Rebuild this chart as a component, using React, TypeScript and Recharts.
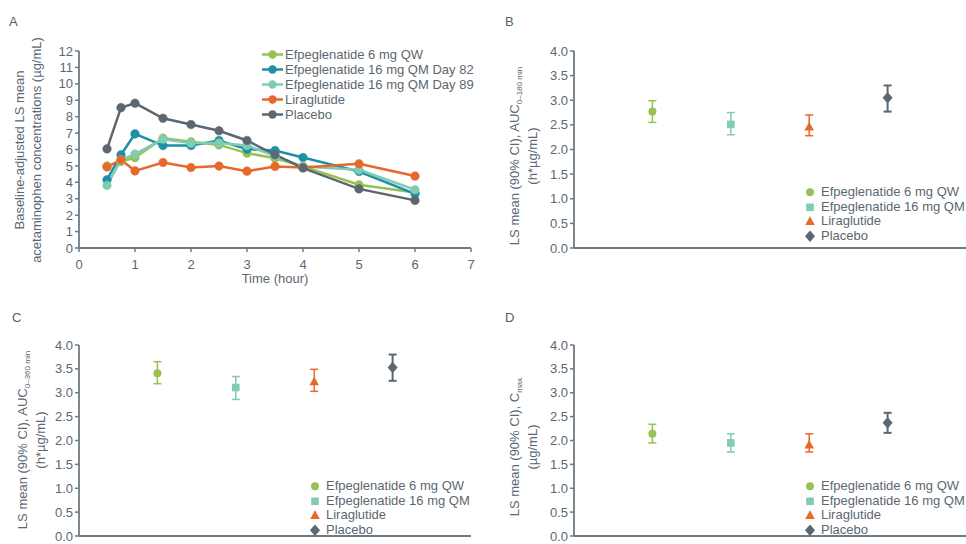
import React from "react";
import {
  LineChart, Line, ScatterChart, Scatter, ErrorBar,
  XAxis, YAxis, Legend,
} from "recharts";

const FONT = "'Liberation Sans', Arial, Helvetica, sans-serif";
const TEXT = "#5b6771";
const AXIS = "#6e7a84";

const GREEN = "#97c153";
const TEAL = "#1f8fa6";
const MINT = "#80ccb2";
const ORANGE = "#e8682b";
const GREY = "#5c6770";

/* ─── Panel A data ─────────────────────────────── */
const times = [0.5, 0.75, 1, 1.5, 2, 2.5, 3, 3.5, 4, 5, 6];
const efpeg6 = [5.0, 5.27, 5.5, 6.69, 6.47, 6.28, 5.78, 5.47, 4.97, 3.85, 3.38];
const efpeg16d82 = [4.16, 5.68, 6.95, 6.24, 6.24, 6.55, 6.02, 5.94, 5.51, 4.66, 3.3];
const efpeg16d89 = [3.81, 5.37, 5.72, 6.63, 6.39, 6.39, 6.24, 5.6, 4.97, 4.76, 3.55];
const liraglutide = [4.93, 5.38, 4.7, 5.21, 4.9, 4.99, 4.68, 4.97, 4.9, 5.13, 4.38];
const placebo = [6.04, 8.55, 8.82, 7.9, 7.52, 7.14, 6.55, 5.68, 4.87, 3.6, 2.9];

const lineSeries = [
  { key: "e6", name: "Efpeglenatide 6 mg QW", color: GREEN, values: efpeg6 },
  { key: "e82", name: "Efpeglenatide 16 mg QM Day 82", color: TEAL, values: efpeg16d82 },
  { key: "e89", name: "Efpeglenatide 16 mg QM Day 89", color: MINT, values: efpeg16d89 },
  { key: "lira", name: "Liraglutide", color: ORANGE, values: liraglutide },
  { key: "plac", name: "Placebo", color: GREY, values: placebo },
];
const xTicksA = [0, 1, 2, 3, 4, 5, 6, 7];
const yTicksA = [0, 1, 2, 3, 4, 5, 6, 7, 8, 9, 10, 11, 12];

/* ─── Panels B–D data (mean, lower, upper) ─────── */
const groups = ["Efpeglenatide 6 mg QW", "Efpeglenatide 16 mg QM", "Liraglutide", "Placebo"];
const groupColors = [GREEN, MINT, ORANGE, GREY];
const groupShapes = ["circle", "square", "triangle", "diamond"];

const aucShortMean = [2.77, 2.51, 2.46, 3.05];
const aucShortLow = [2.55, 2.3, 2.28, 2.77];
const aucShortHigh = [2.99, 2.75, 2.7, 3.3];

const aucLongMean = [3.41, 3.11, 3.23, 3.53];
const aucLongLow = [3.19, 2.86, 3.03, 3.25];
const aucLongHigh = [3.65, 3.34, 3.49, 3.8];

const cmaxMean = [2.14, 1.95, 1.91, 2.37];
const cmaxLow = [1.95, 1.76, 1.76, 2.16];
const cmaxHigh = [2.34, 2.14, 2.14, 2.58];

const yTicksCI = [0, 0.5, 1, 1.5, 2, 2.5, 3, 3.5, 4];

const lineData = times.map((t, i) => {
  const row: any = { t };
  lineSeries.forEach((s) => { row[s.key] = s.values[i]; });
  return row;
});

/* ─── Markers ──────────────────────────────────── */
function Marker({ kind, cx, cy, color }: any) {
  if (kind === "circle") return <circle cx={cx} cy={cy} r={4} fill={color} />;
  if (kind === "square") return <rect x={cx - 3.8} y={cy - 3.8} width={7.6} height={7.6} fill={color} />;
  if (kind === "triangle")
    return <path d={`M${cx},${cy - 5} L${cx + 4.8},${cy + 3.6} L${cx - 4.8},${cy + 3.6} Z`} fill={color} />;
  return <path d={`M${cx},${cy - 5.8} L${cx + 5},${cy} L${cx},${cy + 5.8} L${cx - 5},${cy} Z`} fill={color} />;
}

function LineLegend() {
  return (
    <div style={{ fontFamily: FONT, fontSize: 13, color: TEXT, lineHeight: "15px" }}>
      {lineSeries.map((s) => (
        <div key={s.key} style={{ display: "flex", alignItems: "center", whiteSpace: "nowrap" }}>
          <svg width={24} height={15}>
            <line x1={1} y1={7.5} x2={22} y2={7.5} stroke={s.color} strokeWidth={2.5} />
            <circle cx={11.5} cy={7.5} r={4.2} fill={s.color} />
          </svg>
          <span>{s.name}</span>
        </div>
      ))}
    </div>
  );
}

function SymbolLegend() {
  return (
    <div style={{ fontFamily: FONT, fontSize: 13, color: TEXT, lineHeight: "14.5px" }}>
      {groups.map((g, i) => (
        <div key={g} style={{ display: "flex", alignItems: "center", whiteSpace: "nowrap" }}>
          <svg width={16} height={14.5}>
            <Marker kind={groupShapes[i]} cx={5} cy={7.3} color={groupColors[i]} />
          </svg>
          <span>{g}</span>
        </div>
      ))}
    </div>
  );
}

const tickStyle = { fontSize: 13, fill: TEXT, fontFamily: FONT };

function PanelLetter({ text, left, top }: any) {
  return (
    <div style={{ position: "absolute", left, top, fontFamily: FONT, fontSize: 13, color: "#555f66" }}>{text}</div>
  );
}

function RotLabel({ cx, cy, children, lh }: any) {
  return (
    <div
      style={{
        position: "absolute", left: cx, top: cy,
        transform: "translate(-50%, -50%) rotate(-90deg)",
        fontFamily: FONT, fontSize: 13, color: TEXT, whiteSpace: "nowrap",
        textAlign: "center", lineHeight: `${lh}px`,
      }}
    >
      {children}
    </div>
  );
}

const subStyle = { fontSize: 8, lineHeight: 0, verticalAlign: "-3px" };

function CIChart({ mean, low, high, width, height, top, plotH, legendTop }: any) {
  const bottom = height - top - plotH - 1;
  return (
    <ScatterChart width={width} height={height} margin={{ top, right: 0, bottom, left: 0 }}>
      <XAxis type="number" dataKey="x" domain={[0, 5]} ticks={[]} tick={false} height={1}
        axisLine={{ stroke: AXIS, strokeWidth: 1.8 }} tickLine={false} />
      <YAxis type="number" dataKey="y" domain={[0, 4]} ticks={yTicksCI} width={91} interval={0}
        tick={tickStyle} tickFormatter={(v) => Number(v).toFixed(1)}
        axisLine={{ stroke: AXIS, strokeWidth: 1.8 }} tickLine={{ stroke: AXIS, strokeWidth: 1.5 }}
        tickSize={4} tickMargin={2} />
      {groups.map((g, i) => (
        <Scatter
          key={g}
          name={g}
          isAnimationActive={false}
          data={[{ x: i + 1, y: mean[i], err: [mean[i] - low[i], high[i] - mean[i]] }]}
          shape={(p: any) => <Marker kind={groupShapes[i]} cx={p.cx} cy={p.cy} color={groupColors[i]} />}
        >
          <ErrorBar dataKey="err" direction="y" width={4} stroke={groupColors[i]}
            strokeWidth={i === 3 ? 2 : 1.5} isAnimationActive={false} />
        </Scatter>
      ))}
      <Legend layout="vertical" align="center" verticalAlign="middle"
        wrapperStyle={{ left: 322, top: legendTop, width: "auto" }} content={() => <SymbolLegend />} />
    </ScatterChart>
  );
}

export default function App() {
  return (
    <div style={{ position: "absolute", left: 0, top: 0, width: 966, height: 544, overflow: "hidden", background: "#fff" }}>
      {/* Panel A */}
      <PanelLetter text="A" left={9} top={14} />
      <div style={{ position: "absolute", left: 0, top: 0 }}>
        <LineChart width={483} height={300} data={lineData} margin={{ top: 51, right: 12, bottom: 12, left: 0 }}>
          <XAxis type="number" dataKey="t" domain={[0, 7]} ticks={xTicksA} interval={0} tick={tickStyle}
            axisLine={{ stroke: AXIS, strokeWidth: 1.8 }} tickLine={{ stroke: AXIS, strokeWidth: 1.5 }}
            tickSize={4} tickMargin={8} height={40}
            label={{ value: "Time (hour)", position: "insideBottom", offset: 5, fill: TEXT, fontSize: 13, fontFamily: FONT }} />
          <YAxis type="number" domain={[0, 12]} ticks={yTicksA} interval={0} width={79} tick={tickStyle}
            axisLine={{ stroke: AXIS, strokeWidth: 1.8 }} tickLine={{ stroke: AXIS, strokeWidth: 1.5 }}
            tickSize={4} tickMargin={2} />
          {lineSeries.map((s) => (
            <Line key={s.key} dataKey={s.key} name={s.name} type="linear" stroke={s.color} strokeWidth={2.5}
              dot={{ r: 4.3, fill: s.color, stroke: s.color, strokeWidth: 0.5 }} isAnimationActive={false} />
          ))}
          <Legend layout="vertical" align="center" verticalAlign="middle"
            wrapperStyle={{ left: 261, top: 47, width: "auto" }} content={() => <LineLegend />} />
        </LineChart>
      </div>
      <RotLabel cx={28} cy={150} lh={17}>
        Baseline-adjusted LS mean<br />acetaminophen concentrations (µg/mL)
      </RotLabel>

      {/* Panel B */}
      <PanelLetter text="B" left={505} top={14} />
      <div style={{ position: "absolute", left: 483, top: 0 }}>
        <CIChart mean={aucShortMean} low={aucShortLow} high={aucShortHigh}
          width={483} height={300} top={51} plotH={197} legendTop={185} />
      </div>
      <RotLabel cx={524} cy={156} lh={18}>
        LS mean (90% CI), AUC<sub style={subStyle}>0–180 min</sub><br />(h*µg/mL)
      </RotLabel>

      {/* Panel C */}
      <PanelLetter text="C" left={12} top={310} />
      <div style={{ position: "absolute", left: -12, top: 300 }}>
        <CIChart mean={aucLongMean} low={aucLongLow} high={aucLongHigh}
          width={483} height={244} top={45} plotH={191} legendTop={179} />
      </div>
      <RotLabel cx={32} cy={440} lh={18}>
        LS mean (90% CI), AUC<sub style={subStyle}>0–360 min</sub><br />(h*µg/mL)
      </RotLabel>

      {/* Panel D */}
      <PanelLetter text="D" left={505} top={310} />
      <div style={{ position: "absolute", left: 483, top: 300 }}>
        <CIChart mean={cmaxMean} low={cmaxLow} high={cmaxHigh}
          width={483} height={244} top={45} plotH={191} legendTop={179} />
      </div>
      <RotLabel cx={524} cy={447} lh={18}>
        LS mean (90% CI), C<sub style={subStyle}>max</sub><br />(µg/mL)
      </RotLabel>
    </div>
  );
}
